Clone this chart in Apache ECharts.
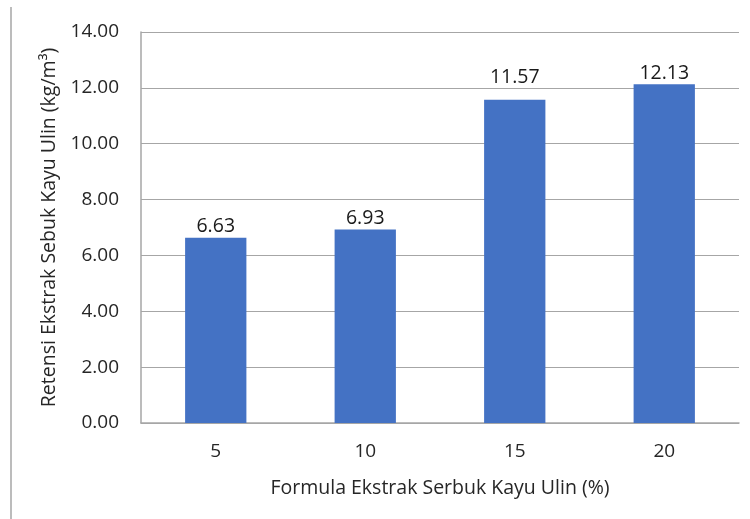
<!DOCTYPE html>
<html>
<head>
<meta charset="utf-8">
<script src="https://cdn.jsdelivr.net/npm/echarts@6/dist/echarts.min.js"></script>
<style>html,body{margin:0;padding:0;background:#fff;}#c{width:750px;height:519px;}</style>
</head>
<body>
<div id="c"></div>
<script>
const categories = ['5', '10', '15', '20'];
const retensi = [6.63, 6.93, 11.57, 12.13];
const yTicks = [0, 2, 4, 6, 8, 10, 12, 14];

const FONT = 'Open Sans';
const chart = echarts.init(document.getElementById('c'), null, {renderer: 'canvas'});
// In the reference the "11.57" label sits above the 12.00 gridline
const barData = retensi.map((v, i) => i === 2 ? {value: v, label: {offset: [0, -11]}} : v);
chart.setOption({
  animation: false,
  backgroundColor: '#ffffff',
  grid: {left: 141, right: 11, top: 32, bottom: 96, containLabel: false},
  xAxis: {
    type: 'category',
    data: categories,
    name: 'Formula Ekstrak Serbuk Kayu Ulin (%)',
    nameLocation: 'middle',
    nameGap: 55,
    nameTextStyle: {fontFamily: FONT, fontSize: 19.5, color: '#262626'},
    axisLine: {show: true, lineStyle: {color: '#a6a6a6', width: 1.5}},
    axisTick: {show: false},
    axisLabel: {fontFamily: FONT, fontSize: 19, color: '#262626', margin: 19}
  },
  yAxis: {
    type: 'value',
    min: yTicks[0],
    max: yTicks[yTicks.length - 1],
    interval: 2,
    name: 'Retensi Ekstrak Sebuk Kayu Ulin (kg/m³)',
    nameLocation: 'middle',
    nameGap: 80,
    nameTextStyle: {fontFamily: FONT, fontSize: 19.5, color: '#262626'},
    axisLine: {show: true, lineStyle: {color: '#a6a6a6', width: 1.5}},
    axisTick: {show: false},
    splitLine: {show: true, lineStyle: {color: '#a6a6a6', width: 1}},
    axisLabel: {fontFamily: FONT, fontSize: 19, color: '#262626', margin: 22,
      formatter: v => v.toFixed(2)}
  },
  series: [{
    type: 'bar',
    data: barData,
    barWidth: '41%',
    itemStyle: {color: '#4472C4'},
    label: {show: true, position: 'top', distance: 1, fontFamily: FONT, fontSize: 19.5,
      color: '#1a1a1a', formatter: p => Number(p.value).toFixed(2)}
  }],
  graphic: [{
    type: 'line',
    shape: {x1: 11, y1: 7, x2: 11, y2: 519},
    style: {stroke: '#a6a6a6', lineWidth: 1.5}
  }]
});
</script>
</body>
</html>
